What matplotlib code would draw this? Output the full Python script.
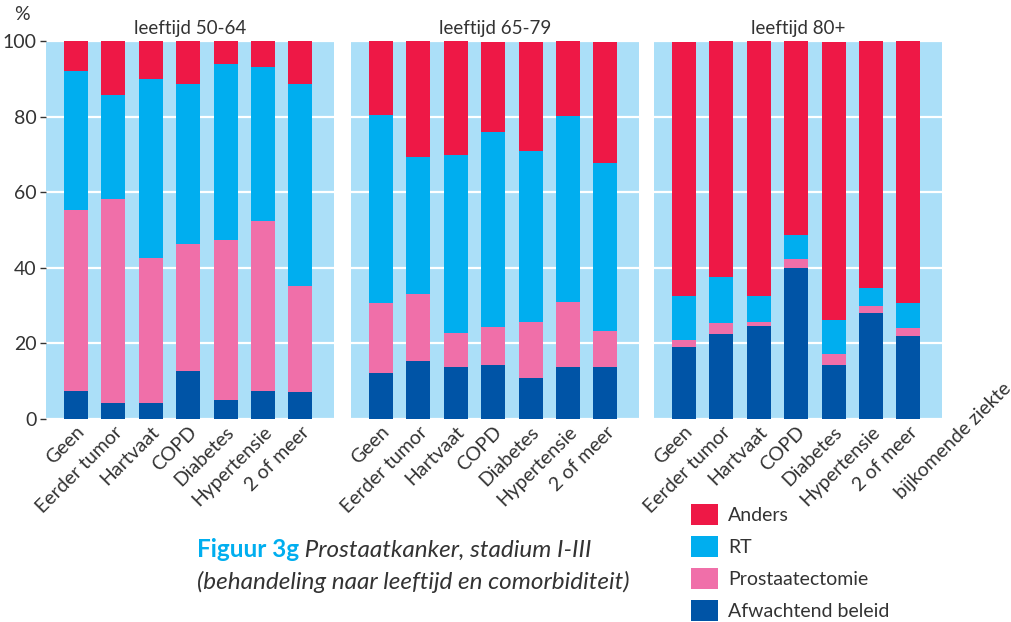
import matplotlib.pyplot as plt
import numpy as np

plt.rcParams['font.family'] = ['Lato', 'DejaVu Sans']
text_color = '#333333'

comorbiditeit = ['Geen', 'Eerder tumor', 'Hartvaat', 'COPD', 'Diabetes',
                 'Hypertensie', '2 of meer']
leeftijden = ['leeftijd 50-64', 'leeftijd 65-79', 'leeftijd 80+']
behandelingen = ['Afwachtend beleid', 'Prostaatectomie', 'RT', 'Anders']
kleuren = ['#0054a6', '#f06fa9', '#00aeef', '#ee1846']

# percentages per leeftijdsgroep, per behandeling (van onder naar boven)
afwachtend_50 = [7.4, 4.2, 4.2, 12.8, 5.1, 7.4, 7.1]
prostatectomie_50 = [47.9, 54.0, 38.5, 33.6, 42.3, 45.1, 28.2]
rt_50 = [36.8, 27.5, 47.2, 42.3, 46.6, 40.6, 53.4]
anders_50 = [7.9, 14.3, 10.1, 11.3, 6.0, 6.9, 11.3]

afwachtend_65 = [12.2, 15.3, 13.8, 14.3, 10.8, 13.8, 13.8]
prostatectomie_65 = [18.5, 17.9, 9.0, 10.0, 14.9, 17.2, 9.5]
rt_65 = [49.7, 36.1, 47.0, 51.6, 45.2, 49.2, 44.4]
anders_65 = [19.6, 31.0, 30.2, 23.8, 28.8, 19.8, 32.0]

afwachtend_80 = [19.0, 22.5, 24.6, 39.9, 14.3, 28.0, 22.0]
prostatectomie_80 = [1.9, 2.9, 1.1, 2.4, 2.9, 1.9, 2.1]
rt_80 = [11.6, 12.2, 6.8, 6.4, 9.0, 4.8, 6.6]
anders_80 = [67.2, 62.4, 67.5, 51.3, 73.5, 65.3, 69.3]

groepen = [
    [afwachtend_50, prostatectomie_50, rt_50, anders_50],
    [afwachtend_65, prostatectomie_65, rt_65, anders_65],
    [afwachtend_80, prostatectomie_80, rt_80, anders_80],
]

fig = plt.figure(figsize=(10.12, 6.22), dpi=100)
W, H = 1012, 622
lefts = [46, 351, 654]
x = np.arange(len(comorbiditeit))

axs = []
for i, left in enumerate(lefts):
    ax = fig.add_axes([left / W, 1 - 419 / H, 288 / W, 378 / H])
    ax.set_facecolor('#abdff8')
    bottom = np.zeros(len(x))
    for vals, kleur, naam in zip(groepen[i], kleuren, behandelingen):
        ax.bar(x, vals, bottom=bottom, width=0.64, color=kleur, label=naam, zorder=3)
        bottom += np.array(vals)
    ax.set_xlim(-0.8, 6.9)
    ax.set_ylim(0, 100)
    ax.set_yticks([0, 20, 40, 60, 80, 100])
    ax.yaxis.grid(True, color='white', lw=1.6, zorder=1)
    ax.set_axisbelow(True)
    for s in ax.spines.values():
        s.set_visible(False)
    ax.set_xticks(x)
    ax.set_xticklabels(comorbiditeit, rotation=45, ha='right', va='top',
                       rotation_mode='anchor', fontsize=14, color=text_color)
    ax.tick_params(axis='x', length=0, pad=3)
    if i == 0:
        ax.tick_params(axis='y', length=4, width=1, color=text_color, pad=3,
                       labelsize=14, labelcolor=text_color)
    else:
        ax.tick_params(axis='y', length=0, labelleft=False)
    ax.set_title(leeftijden[i], fontsize=13.5, color=text_color, pad=5)
    axs.append(ax)

fig.text(22 / W, 1 - 15 / H, '%', fontsize=14, color=text_color,
         ha='center', va='center')

axs[2].text(1.208, 0.103, 'bijkomende ziekte', transform=axs[2].transAxes,
            rotation=45, ha='right', va='top', rotation_mode='anchor',
            fontsize=14, color=text_color, clip_on=False)

handles, labels = axs[0].get_legend_handles_labels()
fig.legend(handles[::-1], labels[::-1], loc='upper left',
           bbox_to_anchor=(691 / W, 1 - 504 / H), frameon=False,
           fontsize=14, handlelength=1.39, handleheight=1.3, handletextpad=0.52,
           labelspacing=0.56, borderpad=0, borderaxespad=0, labelcolor=text_color)

t1 = fig.text(197 / W, 1 - 557 / H, 'Figuur 3g', fontsize=17.5, fontweight='bold',
              color='#00aeef', ha='left', va='baseline')
axs[0].annotate(' Prostaatkanker, stadium I-III', xy=(1, 0), xycoords=t1,
                fontsize=17.5, style='italic', color=text_color,
                ha='left', va='bottom', annotation_clip=False)
fig.text(197 / W, 1 - 589 / H, '(behandeling naar leeftijd en comorbiditeit)',
         fontsize=17.5, style='italic', color=text_color, ha='left', va='baseline')

fig.savefig('out.png', dpi=100)
